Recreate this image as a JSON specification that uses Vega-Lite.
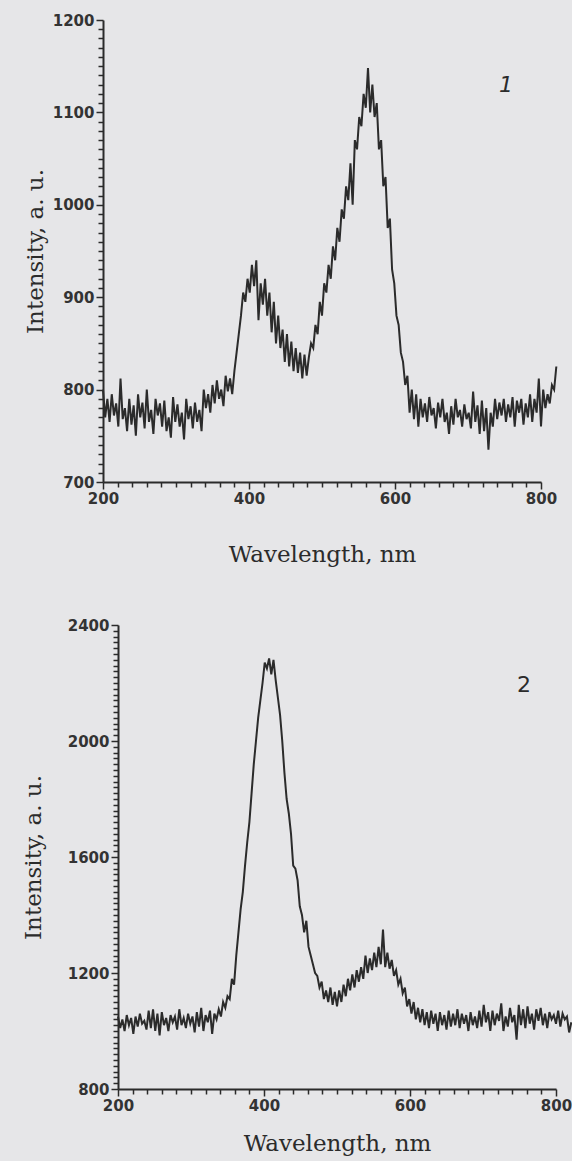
{
  "$schema": "https://vega.github.io/schema/vega-lite/v6.json",
  "background": "#e6e6e8",
  "padding": {"left": 22, "top": 13, "right": 0, "bottom": 6},
  "columns": 1,
  "spacing": 52,
  "datasets": {
    "s1": [
      {"wl":200,"int":800},{"wl":203,"int":770},{"wl":206,"int":790},{"wl":209,"int":765},{"wl":212,"int":795},{"wl":215,"int":772},{"wl":218,"int":785},{"wl":221,"int":760},{"wl":224,"int":812},{"wl":227,"int":768},
      {"wl":230,"int":780},{"wl":233,"int":755},{"wl":236,"int":790},{"wl":239,"int":762},{"wl":242,"int":783},{"wl":245,"int":750},{"wl":248,"int":795},{"wl":251,"int":770},{"wl":254,"int":786},{"wl":257,"int":758},
      {"wl":260,"int":800},{"wl":263,"int":765},{"wl":266,"int":778},{"wl":269,"int":752},{"wl":272,"int":790},{"wl":275,"int":772},{"wl":278,"int":785},{"wl":281,"int":760},{"wl":284,"int":788},{"wl":287,"int":755},
      {"wl":290,"int":770},{"wl":293,"int":748},{"wl":296,"int":792},{"wl":299,"int":765},{"wl":302,"int":784},{"wl":305,"int":760},{"wl":308,"int":775},{"wl":311,"int":746},{"wl":314,"int":790},{"wl":317,"int":768},
      {"wl":320,"int":782},{"wl":323,"int":758},{"wl":326,"int":786},{"wl":329,"int":765},{"wl":332,"int":778},{"wl":335,"int":755},{"wl":338,"int":800},{"wl":341,"int":780},{"wl":344,"int":795},{"wl":347,"int":775},
      {"wl":350,"int":805},{"wl":353,"int":785},{"wl":356,"int":810},{"wl":359,"int":790},{"wl":362,"int":800},{"wl":365,"int":782},{"wl":368,"int":815},{"wl":371,"int":798},{"wl":374,"int":812},{"wl":377,"int":795},
      {"wl":380,"int":820},{"wl":383,"int":840},{"wl":386,"int":860},{"wl":389,"int":880},{"wl":392,"int":905},{"wl":395,"int":895},{"wl":398,"int":920},{"wl":401,"int":905},{"wl":404,"int":935},{"wl":407,"int":912},
      {"wl":410,"int":940},{"wl":413,"int":875},{"wl":416,"int":915},{"wl":419,"int":892},{"wl":422,"int":920},{"wl":425,"int":880},{"wl":428,"int":905},{"wl":431,"int":862},{"wl":434,"int":895},{"wl":437,"int":850},
      {"wl":440,"int":880},{"wl":443,"int":845},{"wl":446,"int":865},{"wl":449,"int":830},{"wl":452,"int":860},{"wl":455,"int":825},{"wl":458,"int":852},{"wl":461,"int":820},{"wl":464,"int":845},{"wl":467,"int":818},
      {"wl":470,"int":840},{"wl":473,"int":812},{"wl":476,"int":838},{"wl":479,"int":815},{"wl":482,"int":835},{"wl":485,"int":850},{"wl":488,"int":845},{"wl":491,"int":870},{"wl":494,"int":860},{"wl":497,"int":895},
      {"wl":500,"int":880},{"wl":503,"int":915},{"wl":506,"int":905},{"wl":509,"int":935},{"wl":512,"int":920},{"wl":515,"int":955},{"wl":518,"int":940},{"wl":521,"int":975},{"wl":524,"int":960},{"wl":527,"int":995},
      {"wl":530,"int":985},{"wl":533,"int":1020},{"wl":536,"int":1005},{"wl":539,"int":1045},{"wl":542,"int":1000},{"wl":545,"int":1070},{"wl":548,"int":1060},{"wl":551,"int":1095},{"wl":554,"int":1085},{"wl":557,"int":1120},
      {"wl":560,"int":1105},{"wl":563,"int":1148},{"wl":566,"int":1100},{"wl":569,"int":1130},{"wl":572,"int":1095},{"wl":575,"int":1110},{"wl":578,"int":1060},{"wl":581,"int":1070},{"wl":584,"int":1020},{"wl":587,"int":1030},
      {"wl":590,"int":975},{"wl":593,"int":985},{"wl":596,"int":930},{"wl":599,"int":915},{"wl":602,"int":880},{"wl":605,"int":870},{"wl":608,"int":840},{"wl":611,"int":830},{"wl":614,"int":805},{"wl":617,"int":815},
      {"wl":620,"int":775},{"wl":623,"int":800},{"wl":626,"int":768},{"wl":629,"int":795},{"wl":632,"int":760},{"wl":635,"int":790},{"wl":638,"int":770},{"wl":641,"int":785},{"wl":644,"int":765},{"wl":647,"int":792},
      {"wl":650,"int":772},{"wl":653,"int":780},{"wl":656,"int":758},{"wl":659,"int":786},{"wl":662,"int":770},{"wl":665,"int":790},{"wl":668,"int":765},{"wl":671,"int":775},{"wl":674,"int":752},{"wl":677,"int":782},
      {"wl":680,"int":762},{"wl":683,"int":790},{"wl":686,"int":770},{"wl":689,"int":778},{"wl":692,"int":760},{"wl":695,"int":784},{"wl":698,"int":768},{"wl":701,"int":775},{"wl":704,"int":758},{"wl":707,"int":798},
      {"wl":710,"int":765},{"wl":713,"int":783},{"wl":716,"int":752},{"wl":719,"int":788},{"wl":722,"int":755},{"wl":725,"int":780},{"wl":728,"int":735},{"wl":731,"int":775},{"wl":734,"int":760},{"wl":737,"int":790},
      {"wl":740,"int":768},{"wl":743,"int":786},{"wl":746,"int":772},{"wl":749,"int":790},{"wl":752,"int":765},{"wl":755,"int":784},{"wl":758,"int":770},{"wl":761,"int":792},{"wl":764,"int":760},{"wl":767,"int":788},
      {"wl":770,"int":775},{"wl":773,"int":790},{"wl":776,"int":762},{"wl":779,"int":785},{"wl":782,"int":770},{"wl":785,"int":795},{"wl":788,"int":765},{"wl":791,"int":790},{"wl":794,"int":775},{"wl":797,"int":812},
      {"wl":800,"int":760},{"wl":803,"int":800},{"wl":806,"int":780},{"wl":809,"int":795},{"wl":812,"int":785},{"wl":815,"int":805},{"wl":818,"int":800},{"wl":821,"int":825}
    ],
    "s2": [
      {"wl":200,"int":1050},{"wl":203,"int":1010},{"wl":206,"int":1040},{"wl":209,"int":1000},{"wl":212,"int":1055},{"wl":215,"int":1020},{"wl":218,"int":1045},{"wl":221,"int":990},{"wl":224,"int":1050},{"wl":227,"int":1015},
      {"wl":230,"int":1060},{"wl":233,"int":1025},{"wl":236,"int":1035},{"wl":239,"int":1005},{"wl":242,"int":1070},{"wl":245,"int":1010},{"wl":248,"int":1075},{"wl":251,"int":1000},{"wl":254,"int":1060},{"wl":257,"int":985},
      {"wl":260,"int":1065},{"wl":263,"int":1020},{"wl":266,"int":1045},{"wl":269,"int":1000},{"wl":272,"int":1055},{"wl":275,"int":1030},{"wl":278,"int":1050},{"wl":281,"int":1005},{"wl":284,"int":1075},{"wl":287,"int":1020},
      {"wl":290,"int":1045},{"wl":293,"int":1010},{"wl":296,"int":1060},{"wl":299,"int":1025},{"wl":302,"int":1050},{"wl":305,"int":995},{"wl":308,"int":1065},{"wl":311,"int":1015},{"wl":314,"int":1080},{"wl":317,"int":1000},
      {"wl":320,"int":1055},{"wl":323,"int":1030},{"wl":326,"int":1070},{"wl":329,"int":990},{"wl":332,"int":1060},{"wl":335,"int":1040},{"wl":338,"int":1075},{"wl":341,"int":1050},{"wl":344,"int":1100},{"wl":347,"int":1080},
      {"wl":350,"int":1120},{"wl":353,"int":1110},{"wl":356,"int":1180},{"wl":359,"int":1160},{"wl":362,"int":1260},{"wl":365,"int":1340},{"wl":368,"int":1420},{"wl":371,"int":1480},{"wl":374,"int":1570},{"wl":377,"int":1650},
      {"wl":380,"int":1720},{"wl":383,"int":1820},{"wl":386,"int":1920},{"wl":389,"int":2000},{"wl":392,"int":2080},{"wl":395,"int":2140},{"wl":398,"int":2200},{"wl":401,"int":2270},{"wl":404,"int":2250},{"wl":407,"int":2285},
      {"wl":410,"int":2230},{"wl":413,"int":2280},{"wl":416,"int":2210},{"wl":419,"int":2150},{"wl":422,"int":2090},{"wl":425,"int":2000},{"wl":428,"int":1890},{"wl":431,"int":1800},{"wl":434,"int":1750},{"wl":437,"int":1680},
      {"wl":440,"int":1570},{"wl":443,"int":1560},{"wl":446,"int":1520},{"wl":449,"int":1430},{"wl":452,"int":1400},{"wl":455,"int":1340},{"wl":458,"int":1380},{"wl":461,"int":1290},{"wl":464,"int":1260},{"wl":467,"int":1230},
      {"wl":470,"int":1200},{"wl":473,"int":1190},{"wl":476,"int":1150},{"wl":479,"int":1170},{"wl":482,"int":1110},{"wl":485,"int":1140},{"wl":488,"int":1100},{"wl":491,"int":1150},{"wl":494,"int":1090},{"wl":497,"int":1135},
      {"wl":500,"int":1085},{"wl":503,"int":1140},{"wl":506,"int":1100},{"wl":509,"int":1160},{"wl":512,"int":1120},{"wl":515,"int":1180},{"wl":518,"int":1140},{"wl":521,"int":1195},{"wl":524,"int":1150},{"wl":527,"int":1210},
      {"wl":530,"int":1170},{"wl":533,"int":1220},{"wl":536,"int":1180},{"wl":539,"int":1260},{"wl":542,"int":1200},{"wl":545,"int":1250},{"wl":548,"int":1210},{"wl":551,"int":1270},{"wl":554,"int":1220},{"wl":557,"int":1290},
      {"wl":560,"int":1230},{"wl":563,"int":1350},{"wl":566,"int":1220},{"wl":569,"int":1270},{"wl":572,"int":1215},{"wl":575,"int":1245},{"wl":578,"int":1190},{"wl":581,"int":1210},{"wl":584,"int":1160},{"wl":587,"int":1180},
      {"wl":590,"int":1130},{"wl":593,"int":1150},{"wl":596,"int":1085},{"wl":599,"int":1110},{"wl":602,"int":1060},{"wl":605,"int":1100},{"wl":608,"int":1040},{"wl":611,"int":1080},{"wl":614,"int":1030},{"wl":617,"int":1075},
      {"wl":620,"int":1020},{"wl":623,"int":1065},{"wl":626,"int":1010},{"wl":629,"int":1070},{"wl":632,"int":1025},{"wl":635,"int":1060},{"wl":638,"int":1000},{"wl":641,"int":1065},{"wl":644,"int":1020},{"wl":647,"int":1055},
      {"wl":650,"int":1005},{"wl":653,"int":1070},{"wl":656,"int":1015},{"wl":659,"int":1060},{"wl":662,"int":1020},{"wl":665,"int":1075},{"wl":668,"int":1010},{"wl":671,"int":1060},{"wl":674,"int":1025},{"wl":677,"int":1055},
      {"wl":680,"int":1000},{"wl":683,"int":1065},{"wl":686,"int":1020},{"wl":689,"int":1050},{"wl":692,"int":1010},{"wl":695,"int":1070},{"wl":698,"int":1015},{"wl":701,"int":1090},{"wl":704,"int":1030},{"wl":707,"int":1065},
      {"wl":710,"int":1000},{"wl":713,"int":1070},{"wl":716,"int":1020},{"wl":719,"int":1060},{"wl":722,"int":1035},{"wl":725,"int":1095},{"wl":728,"int":1000},{"wl":731,"int":1050},{"wl":734,"int":1015},{"wl":737,"int":1080},
      {"wl":740,"int":1030},{"wl":743,"int":1055},{"wl":746,"int":970},{"wl":749,"int":1090},{"wl":752,"int":1020},{"wl":755,"int":1075},{"wl":758,"int":1010},{"wl":761,"int":1085},{"wl":764,"int":1025},{"wl":767,"int":1060},
      {"wl":770,"int":1005},{"wl":773,"int":1075},{"wl":776,"int":1035},{"wl":779,"int":1080},{"wl":782,"int":1020},{"wl":785,"int":1060},{"wl":788,"int":1010},{"wl":791,"int":1065},{"wl":794,"int":1040},{"wl":797,"int":1055},
      {"wl":800,"int":1025},{"wl":803,"int":1070},{"wl":806,"int":1015},{"wl":809,"int":1060},{"wl":812,"int":1040},{"wl":815,"int":1050},{"wl":818,"int":995},{"wl":821,"int":1030}
    ]
  },
  "concat": [
    {
      "width": 438,
      "height": 462,
      "layer": [
        {
          "data": {"name": "s1"},
          "mark": {"type": "line", "color": "#2b2b2b", "strokeWidth": 2},
          "encoding": {
            "x": {"field": "wl", "type": "quantitative",
              "scale": {"domain": [200, 800], "nice": false, "zero": false},
              "axis": {"title": "Wavelength, nm", "tickCount": 30, "labelExpr": "datum.value % 200 === 0 ? datum.label : ''",
                "tickSize": {"condition": {"test": "datum.value % 200 === 0", "value": 7}, "value": 5},
                "labelPadding": 2, "titlePadding": 37}},
            "y": {"field": "int", "type": "quantitative",
              "scale": {"domain": [700, 1200], "nice": false, "zero": false},
              "axis": {"title": "Intensity, a. u.", "tickCount": 50, "labelExpr": "datum.value % 100 === 0 ? datum.label : ''",
                "tickSize": {"condition": {"test": "datum.value % 100 === 0", "value": 7}, "value": 5},
                "labelPadding": 2, "titlePadding": 5}}
          }
        },
        {
          "data": {"values": [{"wl": 752, "int": 1130, "label": "1"}]},
          "mark": {"type": "text", "font": "DejaVu Sans", "fontStyle": "italic", "fontSize": 22, "color": "#2b2b2b"},
          "encoding": {
            "x": {"field": "wl", "type": "quantitative"},
            "y": {"field": "int", "type": "quantitative"},
            "text": {"field": "label"}
          }
        }
      ]
    },
    {
      "width": 453,
      "height": 464,
      "layer": [
        {
          "data": {"name": "s2"},
          "mark": {"type": "line", "color": "#2b2b2b", "strokeWidth": 2},
          "encoding": {
            "x": {"field": "wl", "type": "quantitative",
              "scale": {"domain": [200, 800], "range": [15, 453], "nice": false, "zero": false},
              "axis": {"title": "Wavelength, nm", "tickCount": 30, "labelExpr": "datum.value % 200 === 0 ? datum.label : ''",
                "tickSize": {"condition": {"test": "datum.value % 200 === 0", "value": 7}, "value": 5},
                "labelPadding": 2, "titlePadding": 19}},
            "y": {"field": "int", "type": "quantitative",
              "scale": {"domain": [800, 2400], "nice": false, "zero": false},
              "axis": {"title": "Intensity, a. u.", "tickCount": 80, "offset": -15, "labelExpr": "datum.value % 400 === 0 ? datum.label : ''",
                "tickSize": {"condition": {"test": "datum.value % 400 === 0", "value": 7}, "value": 5},
                "labelPadding": 2, "titlePadding": 22}}
          }
        },
        {
          "data": {"values": [{"wl": 756, "int": 2193, "label": "2"}]},
          "mark": {"type": "text", "font": "DejaVu Sans", "fontSize": 22, "color": "#2b2b2b"},
          "encoding": {
            "x": {"field": "wl", "type": "quantitative"},
            "y": {"field": "int", "type": "quantitative"},
            "text": {"field": "label"}
          }
        }
      ]
    }
  ],
  "config": {
    "view": {"stroke": null},
    "axis": {
      "grid": false,
      "domainColor": "#2b2b2b",
      "domainWidth": 2,
      "tickColor": "#2b2b2b",
      "tickWidth": 1.5,
      "labelFont": "DejaVu Sans",
      "labelFontSize": 15,
      "labelFontWeight": "bold",
      "labelColor": "#333333",
      "labelOverlap": false,
      "labelFlush": false,
      "format": "d",
      "titleFont": "DejaVu Serif",
      "titleFontSize": 23,
      "titleFontWeight": "normal",
      "titleColor": "#2b2b2b"
    }
  }
}
